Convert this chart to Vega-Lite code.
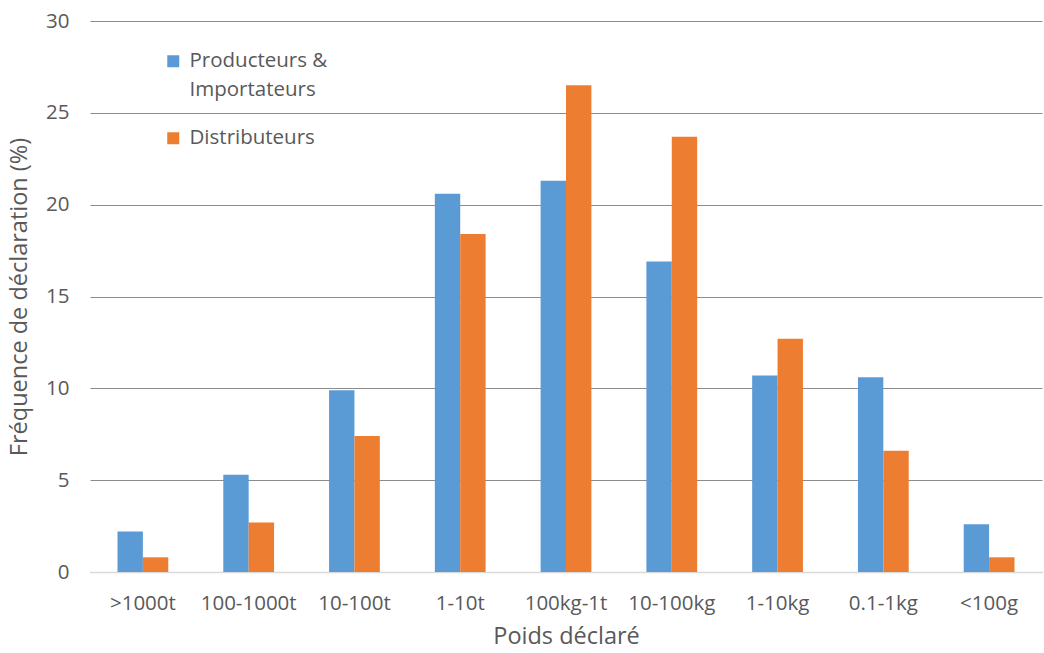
{
  "$schema": "https://vega.github.io/schema/vega-lite/v6.json",
  "width": 952,
  "height": 551,
  "autosize": {"type": "none"},
  "padding": {"left": 90, "top": 21, "right": 2, "bottom": 81},
  "background": "white",
  "config": {
    "font": "Open Sans",
    "view": {"stroke": null},
    "style": {"guide-label": {"lineHeight": 29}},
    "axis": {"labelColor": "#595959", "titleColor": "#595959", "labelFont": "Open Sans", "titleFont": "Open Sans", "titleFontWeight": "normal"}
  },
  "data": {
    "values": [
      {"poids": ">1000t", "groupe": "Producteurs & Importateurs", "freq": 2.2},
      {"poids": ">1000t", "groupe": "Distributeurs", "freq": 0.8},
      {"poids": "100-1000t", "groupe": "Producteurs & Importateurs", "freq": 5.3},
      {"poids": "100-1000t", "groupe": "Distributeurs", "freq": 2.7},
      {"poids": "10-100t", "groupe": "Producteurs & Importateurs", "freq": 9.9},
      {"poids": "10-100t", "groupe": "Distributeurs", "freq": 7.4},
      {"poids": "1-10t", "groupe": "Producteurs & Importateurs", "freq": 20.6},
      {"poids": "1-10t", "groupe": "Distributeurs", "freq": 18.4},
      {"poids": "100kg-1t", "groupe": "Producteurs & Importateurs", "freq": 21.3},
      {"poids": "100kg-1t", "groupe": "Distributeurs", "freq": 26.5},
      {"poids": "10-100kg", "groupe": "Producteurs & Importateurs", "freq": 16.9},
      {"poids": "10-100kg", "groupe": "Distributeurs", "freq": 23.7},
      {"poids": "1-10kg", "groupe": "Producteurs & Importateurs", "freq": 10.7},
      {"poids": "1-10kg", "groupe": "Distributeurs", "freq": 12.7},
      {"poids": "0.1-1kg", "groupe": "Producteurs & Importateurs", "freq": 10.6},
      {"poids": "0.1-1kg", "groupe": "Distributeurs", "freq": 6.6},
      {"poids": "<100g", "groupe": "Producteurs & Importateurs", "freq": 2.6},
      {"poids": "<100g", "groupe": "Distributeurs", "freq": 0.8}
    ]
  },
  "mark": {"type": "bar"},
  "encoding": {
    "x": {
      "field": "poids",
      "type": "nominal",
      "sort": null,
      "title": "Poids déclaré",
      "scale": {"paddingInner": 0.52, "paddingOuter": 0.26},
      "axis": {
        "labelAngle": 0,
        "labelFontSize": 20.5,
        "labelPadding": 21,
        "ticks": false,
        "domainColor": "#D9D9D9",
        "domainWidth": 1.5,
        "titleFontSize": 23.5,
        "titlePadding": 11
      }
    },
    "xOffset": {"field": "groupe", "type": "nominal", "sort": ["Producteurs & Importateurs", "Distributeurs"]},
    "y": {
      "field": "freq",
      "type": "quantitative",
      "title": "Fréquence de déclaration (%)",
      "scale": {"domain": [0, 30]},
      "axis": {
        "values": [0, 5, 10, 15, 20, 25, 30],
        "labelFontSize": 20.5,
        "labelPadding": 21,
        "ticks": false,
        "domain": false,
        "gridColor": "#8C8C8C",
        "gridWidth": 1,
        "titleFontSize": 23.5,
        "titlePadding": 14
      }
    },
    "color": {
      "field": "groupe",
      "type": "nominal",
      "sort": ["Producteurs & Importateurs", "Distributeurs"],
      "scale": {"domain": ["Producteurs & Importateurs", "Distributeurs"], "range": ["#5B9BD5", "#ED7D31"]},
      "legend": {
        "title": null,
        "orient": "none",
        "legendX": 73,
        "legendY": 30,
        "symbolType": "square",
        "symbolSize": 144,
        "symbolStrokeWidth": 0,
        "labelFontSize": 20.5,
        "labelColor": "#595959",
        "labelFont": "Open Sans",
        "labelOffset": 6,
        "rowPadding": 27,
        "labelLimit": 300,
        "labelExpr": "datum.label == 'Producteurs & Importateurs' ? ['Producteurs &', 'Importateurs'] : datum.label"
      }
    }
  }
}
